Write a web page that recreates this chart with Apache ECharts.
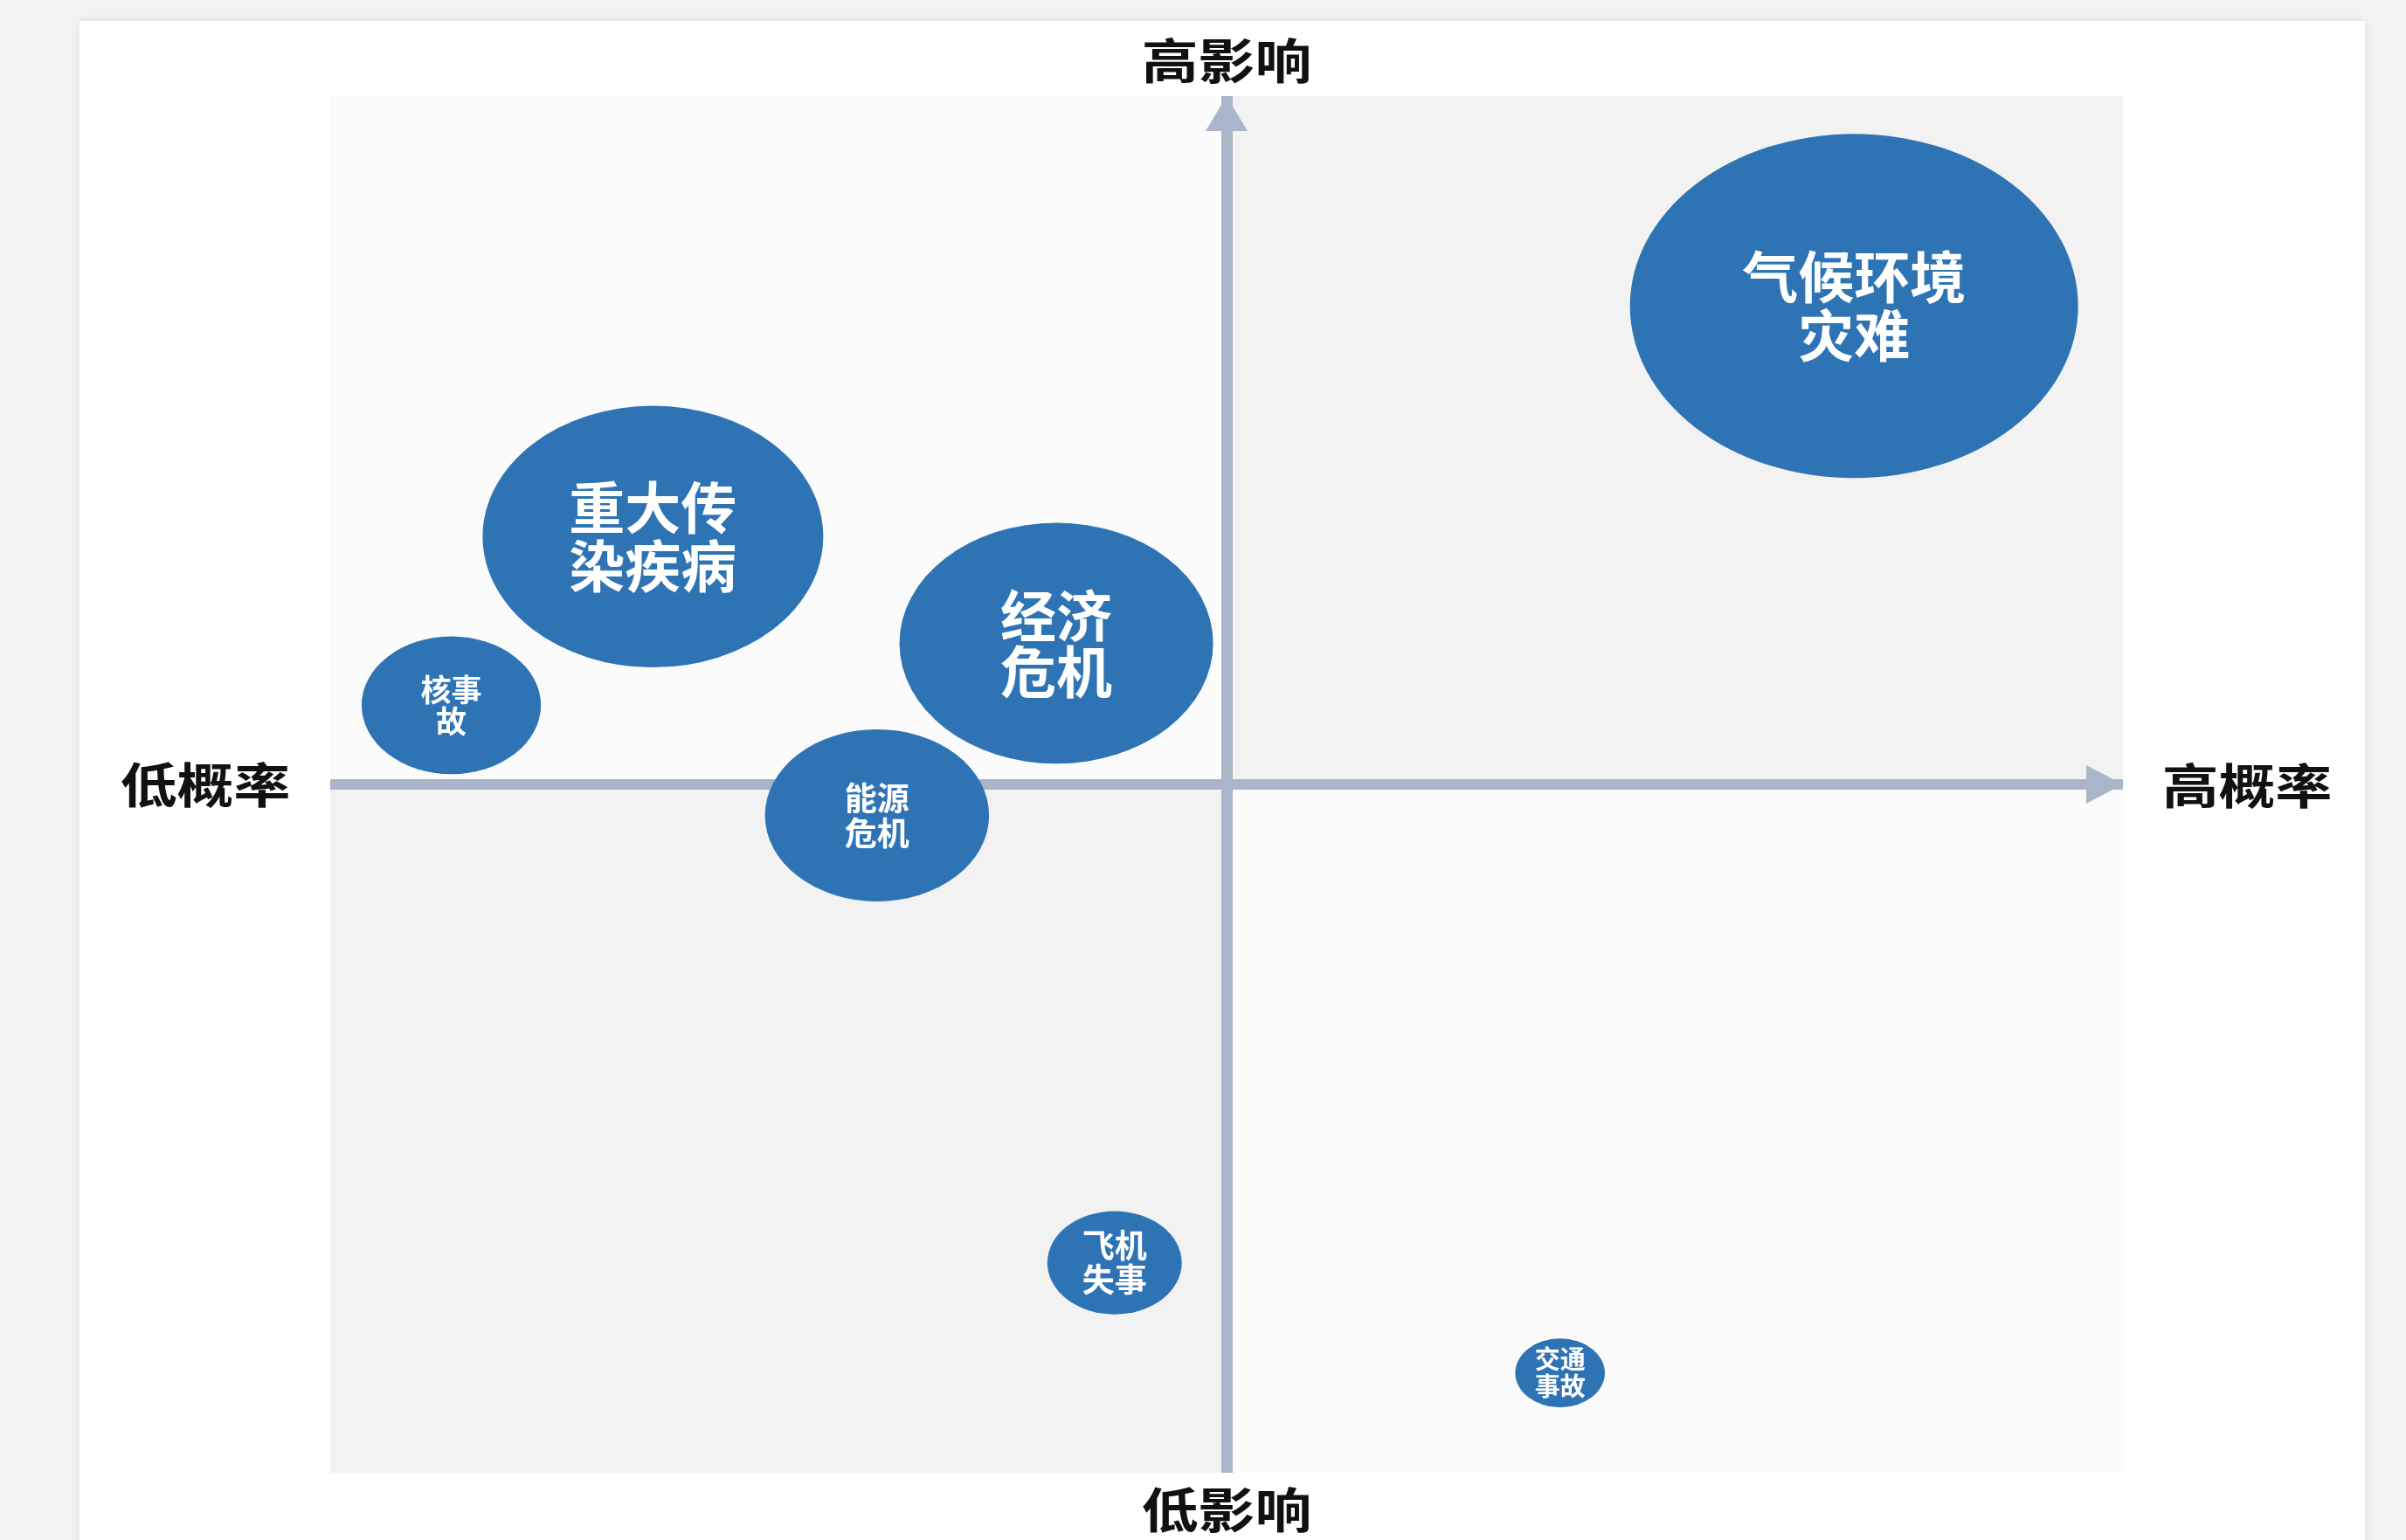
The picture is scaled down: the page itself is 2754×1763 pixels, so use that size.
<!DOCTYPE html>
<html>
<head>
<meta charset="utf-8">
<title>风险矩阵</title>
<script src="https://cdn.jsdelivr.net/npm/echarts@6/dist/echarts.min.js"></script>
<style>
  html, body { margin: 0; padding: 0; background: #f2f2f0; }
  #chart { width: 2754px; height: 1763px; }
</style>
</head>
<body>
<div id="chart"></div>
<script>
// Risk events: probability (x), impact (y), bubble diameter in axis units
const riskNames = ['气候环境\n灾难', '重大传\n染疾病', '经济\n危机', '核事\n故', '能源\n危机', '飞机\n失事', '交通\n事故'];
const probability = [7.0, -6.4, -1.9, -8.65, -3.9, -1.25, 3.72];
const impact = [6.95, 3.6, 2.05, 1.15, -0.45, -6.95, -8.55];
const magnitude = [5.0, 3.8, 3.5, 2.0, 2.5, 1.5, 1.0];

// Quadrant bounds [x0, y0, x1, y1]
const quadrants = [[-10, 0, 0, 10], [0, 0, 10, 10], [-10, -10, 0, 0], [0, -10, 10, 0]];
const quadrantFill = ['#fbfbfb', '#f2f2f2', '#f2f2f2', '#fbfbfb'];

// Axis end captions
const axisCaptions = { top: '高影响', bottom: '低影响', left: '低概率', right: '高概率' };

const AX_MIN = -10, AX_MAX = 10;
const GRID = { left: 378, top: 110, width: 2052, height: 1576 };
const pxPerX = GRID.width / (AX_MAX - AX_MIN);
const pxPerY = GRID.height / (AX_MAX - AX_MIN);

const labelStyles = [
  { fontSize: 64, lineHeight: 67 },
  { fontSize: 64, lineHeight: 67 },
  { fontSize: 64, lineHeight: 64 },
  { fontSize: 35, lineHeight: 36 },
  { fontSize: 37, lineHeight: 40 },
  { fontSize: 37, lineHeight: 39 },
  { fontSize: 29, lineHeight: 31 }
];

const bubbleData = riskNames.map((name, i) => ({
  name: name,
  value: [probability[i], impact[i], magnitude[i]],
  label: labelStyles[i]
}));

const cx = GRID.left + GRID.width / 2;
const captionFont = 'bold 55px "Noto Sans CJK SC", "Noto Sans", sans-serif';
const axisColor = '#a9b6c9';

function caption(text, x, y) {
  return {
    type: 'text', x: x, y: y, scaleX: 1.18,
    style: { text: text, font: captionFont, fill: '#111', align: 'center', verticalAlign: 'middle' }
  };
}

const chart = echarts.init(document.getElementById('chart'), null, { renderer: 'canvas' });

chart.setOption({
  backgroundColor: '#f2f2f0',
  animation: false,
  textStyle: { fontFamily: '"Noto Sans CJK SC", "Noto Sans", sans-serif' },
  graphic: {
    z: -10,
    elements: [
      {
        type: 'rect',
        shape: { x: 91, y: 24, width: 2616, height: 1780 },
        style: { fill: '#ffffff', shadowBlur: 10, shadowColor: 'rgba(0,0,0,0.08)' }
      },
      caption(axisCaptions.top, cx, 69),
      caption(axisCaptions.bottom, cx, 1728),
      caption(axisCaptions.left, 235, 898),
      caption(axisCaptions.right, 2572, 899)
    ]
  },
  grid: { left: GRID.left, top: GRID.top, width: GRID.width, height: GRID.height, containLabel: false },
  xAxis: {
    type: 'value', min: AX_MIN, max: AX_MAX, z: 1,
    axisLine: {
      show: true, onZero: true,
      lineStyle: { color: axisColor, width: 12, cap: 'butt' },
      symbol: ['none', 'triangle'], symbolSize: [44, 42], symbolOffset: [0, -21]
    },
    axisTick: { show: false }, axisLabel: { show: false }, splitLine: { show: false }
  },
  yAxis: {
    type: 'value', min: AX_MIN, max: AX_MAX, z: 1,
    axisLine: {
      show: true, onZero: true,
      lineStyle: { color: axisColor, width: 13, cap: 'butt' },
      symbol: ['none', 'triangle'], symbolSize: [48, 40], symbolOffset: [0, -20]
    },
    axisTick: { show: false }, axisLabel: { show: false }, splitLine: { show: false }
  },
  series: [
    {
      type: 'custom',
      z: 0,
      silent: true,
      data: quadrants.map((q, i) => ({ value: q, itemStyle: { color: quadrantFill[i] } })),
      renderItem: function (params, api) {
        const p0 = api.coord([api.value(0), api.value(3)]);
        const p1 = api.coord([api.value(2), api.value(1)]);
        return {
          type: 'rect',
          shape: { x: p0[0], y: p0[1], width: p1[0] - p0[0], height: p1[1] - p0[1] },
          style: { fill: api.visual('color') }
        };
      }
    },
    {
      type: 'scatter',
      z: 3,
      data: bubbleData,
      symbol: 'circle',
      symbolSize: function (val) {
        return [val[2] * pxPerX, val[2] * pxPerY];
      },
      itemStyle: { color: '#2e74b5', opacity: 1 },
      label: {
        show: true,
        position: 'inside',
        formatter: '{b}',
        color: '#ffffff',
        fontWeight: 'bold',
        fontFamily: '"Noto Sans CJK SC", "Noto Sans", sans-serif',
        align: 'center'
      },
      emphasis: { disabled: true }
    }
  ]
});
</script>
</body>
</html>
